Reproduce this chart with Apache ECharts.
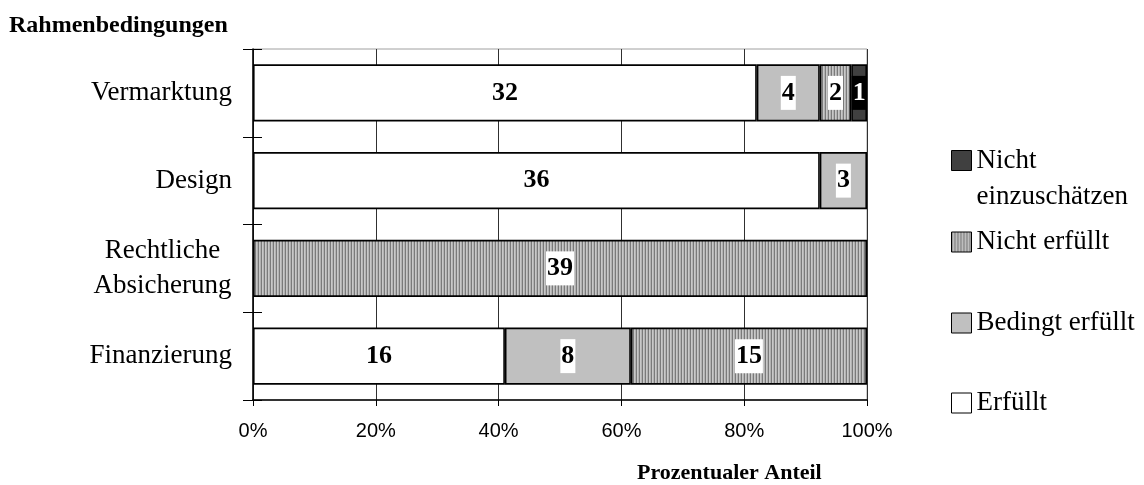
<!DOCTYPE html>
<html>
<head>
<meta charset="utf-8">
<script src="https://cdn.jsdelivr.net/npm/echarts@6/dist/echarts.min.js"></script>
<style>
  html, body { margin: 0; padding: 0; background: #ffffff; }
  #chart { width: 1144px; height: 485px; }
</style>
</head>
<body>
<div id="chart"></div>
<script>
// Rahmenbedingungen: Anzahl der Nennungen je Kategorie (39 je Zeile)
const categories = ['Vermarktung', 'Design', 'Rechtliche\nAbsicherung', 'Finanzierung'];
const erfuellt = [32, 36, 0, 16];
const bedingtErfuellt = [4, 3, 0, 8];
const nichtErfuellt = [2, 0, 39, 15];
const nichtEinzuschaetzen = [1, 0, 0, 0];
const totalCount = 39;
const percentTickStep = 20;

const SERIF = "'Liberation Serif', 'Times New Roman', serif";
const SANS = "'Liberation Sans', Arial, sans-serif";

// vertical stripe fill for "Nicht erfüllt"
function stripePattern() {
  const c = document.createElement('canvas');
  c.width = 3; c.height = 4;
  const g = c.getContext('2d');
  const cols = ['#7a7a7a', '#c8c8c8', '#b2b2b2'];
  cols.forEach((col, i) => { g.fillStyle = col; g.fillRect(i, 0, 1, 4); });
  return { image: c, repeat: 'repeat' };
}

function barSeries(name, values, fill, labelColor, labelBg) {
  return {
    type: 'bar',
    name: name,
    stack: 'anteil',
    barCategoryGap: '35%',
    data: values.map(v => (v === 0 ? null : v)),
    itemStyle: { color: fill, borderColor: '#000000', borderWidth: 1.6 },
    emphasis: { disabled: true },
    label: {
      show: true,
      position: 'inside',
      fontFamily: SERIF,
      fontWeight: 'bold',
      fontSize: 26,
      lineHeight: 30,
      color: labelColor,
      backgroundColor: labelBg,
      padding: [2, 1]
    }
  };
}

const series = [
  barSeries('Erfüllt', erfuellt, '#ffffff', '#000000', '#ffffff'),
  barSeries('Bedingt erfüllt', bedingtErfuellt, '#c0c0c0', '#000000', '#ffffff'),
  barSeries('Nicht erfüllt', nichtErfuellt, stripePattern(), '#000000', '#ffffff'),
  barSeries('Nicht einzuschätzen', nichtEinzuschaetzen, '#404040', '#ffffff', '#000000')
];

const LEGEND_FONT = 27;
function legendItem(name, top, opts) {
  return Object.assign({
    data: [{ name: name, icon: 'rect' }],
    orient: 'vertical',
    left: 951,
    top: top,
    padding: 0,
    itemWidth: 20,
    itemHeight: 20,
    selectedMode: false,
    itemStyle: { borderColor: '#000000', borderWidth: 1 },
    textStyle: { fontFamily: SERIF, fontSize: LEGEND_FONT, lineHeight: 30, color: '#000000' }
  }, opts || {});
}

const chart = echarts.init(document.getElementById('chart'), null, { renderer: 'canvas' });
chart.setOption({
  animation: false,
  backgroundColor: '#ffffff',
  title: [
    {
      text: 'Rahmenbedingungen',
      left: 9, top: 14, padding: 0,
      textStyle: { fontFamily: SERIF, fontWeight: 'bold', fontSize: 24, color: '#000000' }
    },
    {
      text: 'Prozentualer Anteil',
      left: 637, top: 462, padding: 0,
      textStyle: { fontFamily: SERIF, fontWeight: 'bold', fontSize: 22, color: '#000000' }
    }
  ],
  legend: [
    // two-line entry: the icon sits beside the first line
    legendItem('Nicht einzuschätzen', 161 - 50, {
      formatter: () => '{e| }\n{t|Nicht}\n{t|einzuschätzen}',
      textStyle: {
        fontFamily: SERIF, fontSize: LEGEND_FONT, color: '#000000',
        rich: {
          e: { fontFamily: SERIF, fontSize: LEGEND_FONT, lineHeight: 36 },
          t: { fontFamily: SERIF, fontSize: LEGEND_FONT, lineHeight: 36, color: '#000000' }
        }
      }
    }),
    legendItem('Nicht erfüllt', 242 - 15),
    legendItem('Bedingt erfüllt', 323 - 15),
    legendItem('Erfüllt', 403 - 15)
  ],
  grid: {
    left: 253, right: 277, top: 49, bottom: 85,
    show: true, borderColor: '#a0a0a0', borderWidth: 1, backgroundColor: 'transparent'
  },
  xAxis: {
    type: 'value',
    min: 0,
    max: totalCount,
    interval: totalCount * percentTickStep / 100,
    axisLine: { show: true, lineStyle: { color: '#000000', width: 1.5 } },
    axisTick: { show: true, length: 6, lineStyle: { color: '#000000', width: 1 } },
    axisLabel: {
      margin: 21,
      fontFamily: SANS, fontSize: 20, color: '#000000',
      formatter: v => Math.round(v / totalCount * 100) + '%'
    },
    splitLine: { show: true, lineStyle: { color: '#303030', width: 1 } }
  },
  yAxis: [
    {
      type: 'category',
      data: categories,
      inverse: true,
      axisLine: { show: true, lineStyle: { color: '#000000', width: 1.5 } },
      axisTick: { show: true, length: 10, lineStyle: { color: '#000000', width: 1 } },
      axisLabel: {
        margin: 21,
        fontFamily: SERIF, fontSize: 27, lineHeight: 35, color: '#000000',
        formatter: v => v.indexOf('\n') < 0 ? v :
          v.split('\n').map(s => '{c|' + s + '}').join('\n'),
        rich: { c: { fontFamily: SERIF, fontSize: 27, lineHeight: 35, width: 139, align: 'center' } }
      },
      splitLine: { show: false }
    },
    {
      type: 'category',
      data: categories,
      inverse: true,
      position: 'left',
      axisLine: { show: false },
      axisTick: { show: true, inside: true, length: 9, lineStyle: { color: '#000000', width: 1 } },
      axisLabel: { show: false },
      splitLine: { show: false }
    }
  ],
  series: series
});
</script>
</body>
</html>
